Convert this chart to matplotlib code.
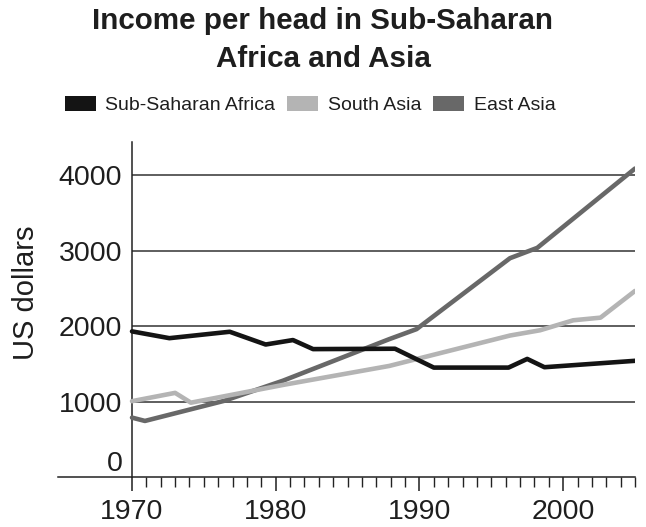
import matplotlib.pyplot as plt
import matplotlib.transforms as mtransforms
from matplotlib.patches import Patch
from matplotlib.ticker import FixedLocator

plt.rcParams['font.family'] = ['Liberation Sans', 'DejaVu Sans']

# vertices (year, US dollars)
africa_years = [1970, 1972.6, 1976.8, 1979.3, 1981.2, 1982.6, 1988.3, 1991.0, 1996.2, 1997.5, 1998.7, 2005]
africa_income = [1930, 1840, 1925, 1756, 1815, 1695, 1700, 1450, 1450, 1565, 1455, 1540]

south_years = [1970, 1973, 1974.1, 1980.5, 1987.9, 1996.3, 1998.4, 2000.7, 2002.6, 2005]
south_income = [1005, 1115, 985, 1220, 1472, 1875, 1945, 2077, 2112, 2466]

east_years = [1970, 1970.9, 1976.4, 1980.5, 1987.9, 1989.8, 1996.3, 1997.2, 1998.2, 2005]
east_income = [787, 743, 1009, 1276, 1827, 1960, 2900, 2965, 3037, 4088]

series_names = ['Sub-Saharan Africa', 'South Asia', 'East Asia']
series_colors = ['#141414', '#b4b4b4', '#686868']
y_ticks = [0, 1000, 2000, 3000, 4000]
x_ticks = [1970, 1980, 1990, 2000]

fig = plt.figure(figsize=(6.46, 5.27), dpi=100)
ax = fig.add_axes([58 / 646, 50 / 527, (635 - 58) / 646, (477 - 142) / 527])

# horizontal grid lines from 1970 onwards
ax.hlines(y_ticks[1:], 1970, 2005, color='#333333', linewidth=1.1, zorder=1)

line_kw = dict(linewidth=3.3, solid_joinstyle='round', solid_capstyle='round', zorder=3)
ax.plot(east_years, east_income, color=series_colors[2], **line_kw)
ax.plot(south_years, south_income, color=series_colors[1], **line_kw)
ax.plot(africa_years, africa_income, color=series_colors[0], **line_kw)

ax.set_xlim(1964.85, 2005)
ax.set_ylim(0, 4440)

for side in ['top', 'right']:
    ax.spines[side].set_visible(False)
ax.spines['left'].set_position(('data', 1970))
ax.spines['left'].set_linewidth(1.1)
ax.spines['bottom'].set_linewidth(1.1)
ax.spines['left'].set_color('#222222')
ax.spines['bottom'].set_color('#222222')

ax.set_xticks(x_ticks)
ax.xaxis.set_minor_locator(FixedLocator(list(range(1970, 2006))))
ax.tick_params(axis='x', which='major', length=10, width=1.1, pad=6, labelsize=20.5, colors='#1e1e1e')
ax.tick_params(axis='x', which='minor', length=7, width=1.0, colors='#222222')
ax.set_yticks(y_ticks)
ax.tick_params(axis='y', length=0, pad=7, labelsize=20.5, colors='#1e1e1e')

# the "0" label sits above the axis line
offset = mtransforms.ScaledTranslation(0, 0.16, fig.dpi_scale_trans)
zero_label = ax.get_yticklabels()[0]
zero_label.set_transform(zero_label.get_transform() + offset)

fig.text(26 / 646, 1 - 293 / 527, 'US dollars', rotation=90, ha='center', va='center',
         fontsize=21, color='#1e1e1e')

fig.text(0.5, 1 - 7 / 527, 'Income per head in Sub-Saharan\nAfrica and Asia', ha='center', va='top',
         fontsize=21.3, fontweight='bold', color='#1e1e1e', linespacing=1.45)

handles = [Patch(facecolor=c, edgecolor='none') for c in series_colors]
fig.legend(handles, series_names, loc='center', bbox_to_anchor=(310 / 646, 1 - 105 / 527),
           ncol=3, frameon=False, fontsize=14, handlelength=1.6, handleheight=0.78,
           handletextpad=0.47, columnspacing=0.63, borderpad=0, labelcolor='#1e1e1e')

plt.savefig('out.png', dpi=100)
